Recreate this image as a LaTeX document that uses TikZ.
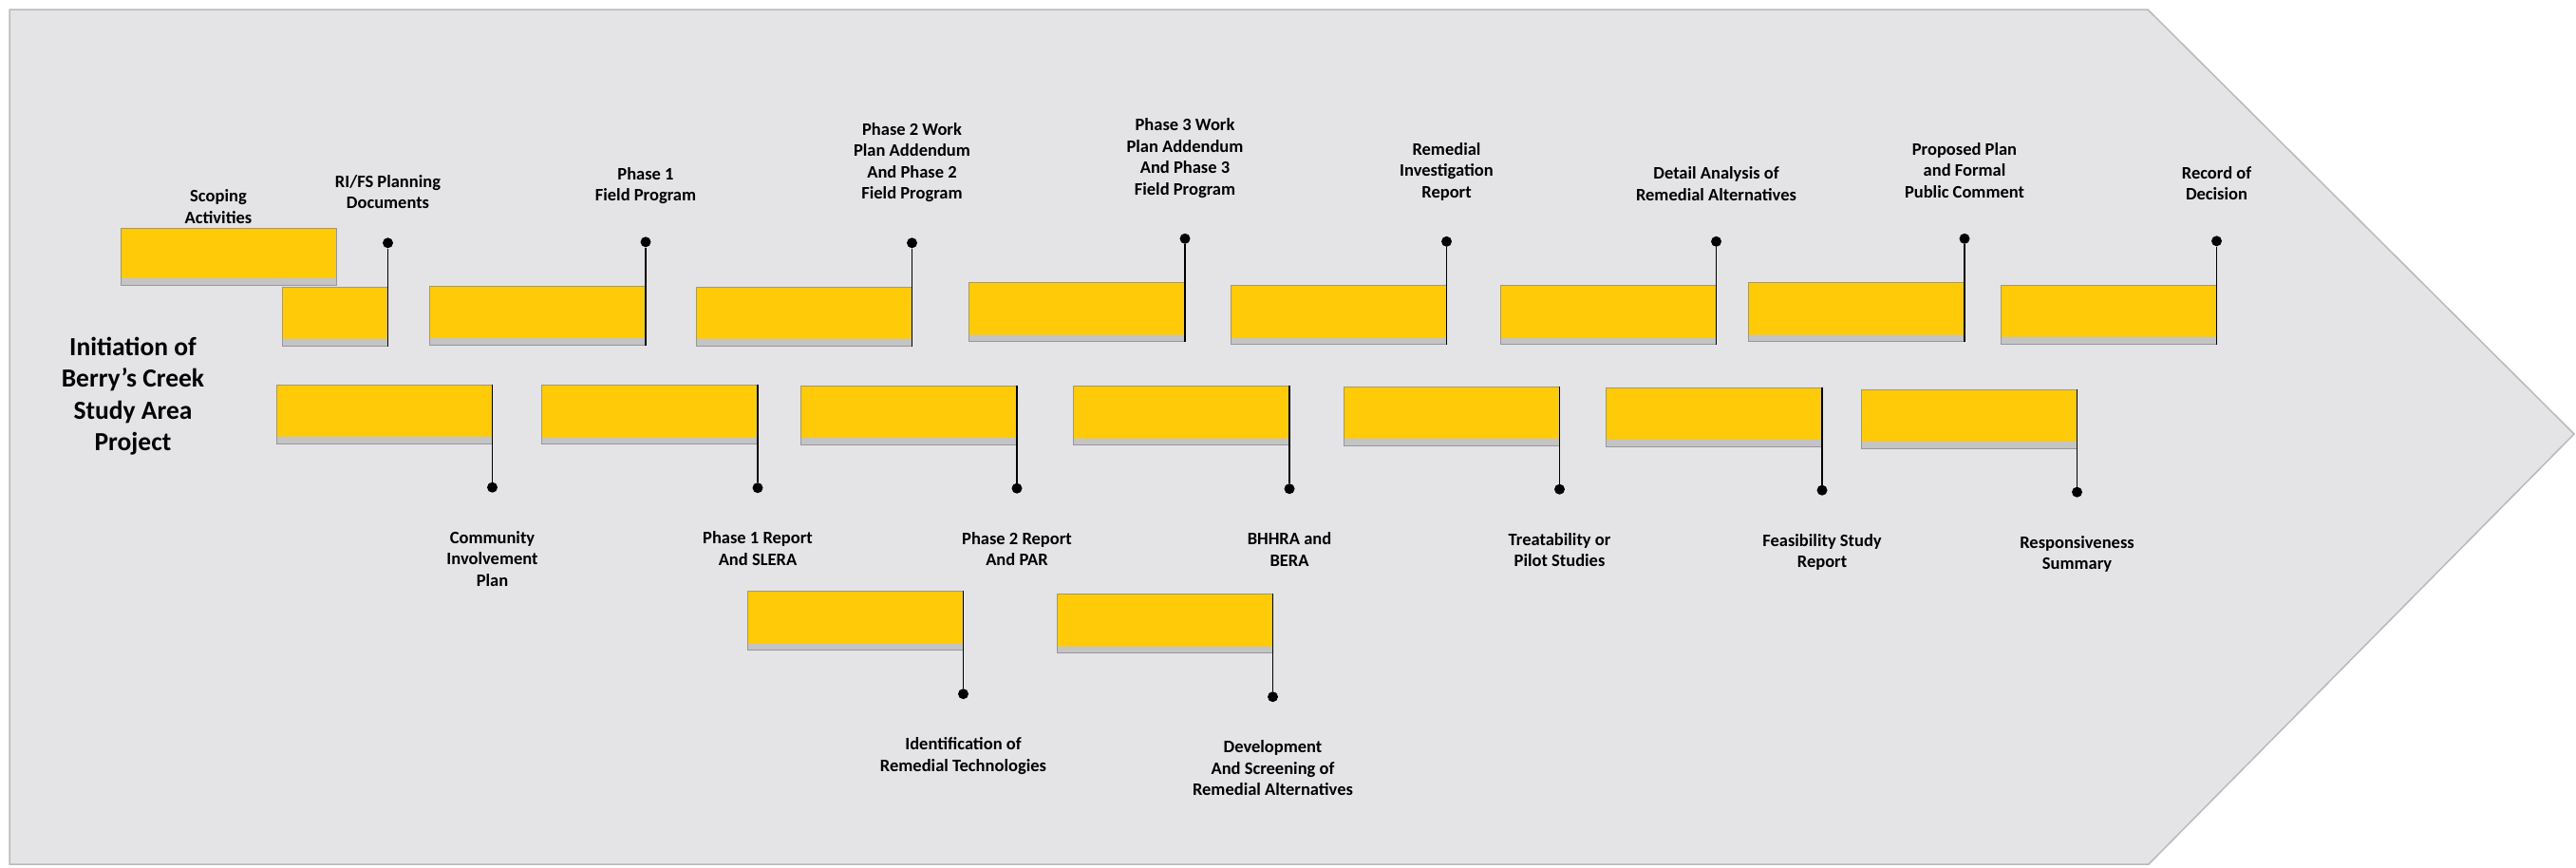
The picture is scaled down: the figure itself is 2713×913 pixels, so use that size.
\documentclass[tikz,border=0pt]{standalone}
\usepackage{fontspec}
\setmainfont{Carlito}
\usepackage{tikz}
\usetikzlibrary{positioning}
\definecolor{bggray}{RGB}{228,228,230}
\definecolor{bgedge}{RGB}{185,185,188}
\definecolor{boxyellow}{RGB}{255,202,8}
\definecolor{boxedge}{RGB}{150,150,160}
\definecolor{boxshade}{RGB}{196,196,196}
\tikzset{
  bgarrow/.style={fill=bggray, draw=bgedge, line width=1.5pt},
  phase/.style={fill=boxyellow, draw=boxedge, line width=1pt, minimum width=227pt, minimum height=62pt, inner sep=0pt,
    path picture={\fill[boxshade] (path picture bounding box.south west) rectangle ([yshift=7pt]path picture bounding box.south east);}},
  pindot/.style={circle, fill=black, inner sep=0pt, minimum size=11pt},
  pinline/.style={line width=1.7pt, black},
  lbl/.style={align=center, font=\bfseries\fontsize{18.5}{22.5}\selectfont, inner sep=0pt},
  projtitle/.style={align=center, font=\bfseries\fontsize{27.5}{33.5}\selectfont, inner sep=0pt}
}

\begin{document}
\begin{tikzpicture}[x=1pt, y=-1pt, node distance=37pt]
    \useasboundingbox (0,0) rectangle (2713,913);
    % arrow shaped background
    \draw[bgarrow] (10,10) -- (2262,10) -- (2711,457) -- (2263,910) -- (10,910) -- cycle;
    \node[projtitle] (init) at (140,417) {Initiation of\\Berry’s Creek\\Study Area\\Project};

    % upper row
    \node[phase, minimum height=60pt] (t0) at (241,270) {};
    \node[phase, minimum width=111pt] (t1) at (352.5,333) {};
    \node[phase] (t2) at (566,332) {};
    \node[phase] (t3) at (846.5,333) {};
    \node[phase] (t4) at (1134,328.5) {};
    \node[phase] (t5) at (1409.5,331.5) {};
    \node[phase] (t6) at (1693.5,331.5) {};
    \node[phase] (t7) at (1955,328.5) {};
    \node[phase] (t8) at (2220.5,331) {};

    % lower row
    \node[phase] (b1) at (404.5,436) {};
    \node[phase] (b2) at (684,436.5) {};
    \node[phase] (b3) at (957,437) {};
    \node[phase] (b4) at (1244,437.5) {};
    \node[phase] (b5) at (1528.5,438) {};
    \node[phase] (b6) at (1805,439) {};
    \node[phase] (b7) at (2073.5,441) {};

    % third row
    \node[phase] (c1) at (900.5,653.5) {};
    \node[phase] (c2) at (1226.5,656.5) {};

    % pins pointing up
    \foreach \b in {t1,t2,t3,t4,t5,t6,t7,t8} {
      \node[pindot, above=40pt of \b.north east] (\b d) {};
      \draw[pinline] (\b.south east) -- (\b d);
    }
    % pins pointing down
    \foreach \b in {b1,b2,b3,b4,b5,b6,b7,c1,c2} {
      \node[pindot, below=40pt of \b.south east] (\b d) {};
      \draw[pinline] (\b.north east) -- (\b d);
    }

    % labels
    \node[lbl, above=4pt of t0, xshift=-11pt] (t0l) {Scoping\\Activities};
    \node[lbl, above=30pt of t1d] (t1l) {RI/FS Planning\\Documents};
    \node[lbl, above=34pt of t2d] (t2l) {Phase 1\\Field Program};
    \node[lbl, above=of t3d] (t3l) {Phase 2 Work\\Plan Addendum\\And Phase 2\\Field Program};
    \node[lbl, above=of t4d] (t4l) {Phase 3 Work\\Plan Addendum\\And Phase 3\\Field Program};
    \node[lbl, above=of t5d] (t5l) {Remedial\\Investigation\\Report};
    \node[lbl, above=of t6d] (t6l) {Detail Analysis of\\Remedial Alternatives};
    \node[lbl, above=of t7d] (t7l) {Proposed Plan\\and Formal\\Public Comment};
    \node[lbl, above=of t8d] (t8l) {Record of\\Decision};

    \node[lbl, below=40pt of b1d] (b1l) {Community\\Involvement\\Plan};
    \node[lbl, below=40pt of b2d] (b2l) {Phase 1 Report\\And SLERA};
    \node[lbl, below=40pt of b3d] (b3l) {Phase 2 Report\\And PAR};
    \node[lbl, below=40pt of b4d] (b4l) {BHHRA and\\BERA};
    \node[lbl, below=40pt of b5d] (b5l) {Treatability or\\Pilot Studies};
    \node[lbl, below=40pt of b6d] (b6l) {Feasibility Study\\Report};
    \node[lbl, below=40pt of b7d] (b7l) {Responsiveness\\Summary};
    \node[lbl, below=40pt of c1d] (c1l) {Identification of\\Remedial Technologies};
    \node[lbl, below=40pt of c2d] (c2l) {Development\\And Screening of\\Remedial Alternatives};
\end{tikzpicture}
\end{document}
